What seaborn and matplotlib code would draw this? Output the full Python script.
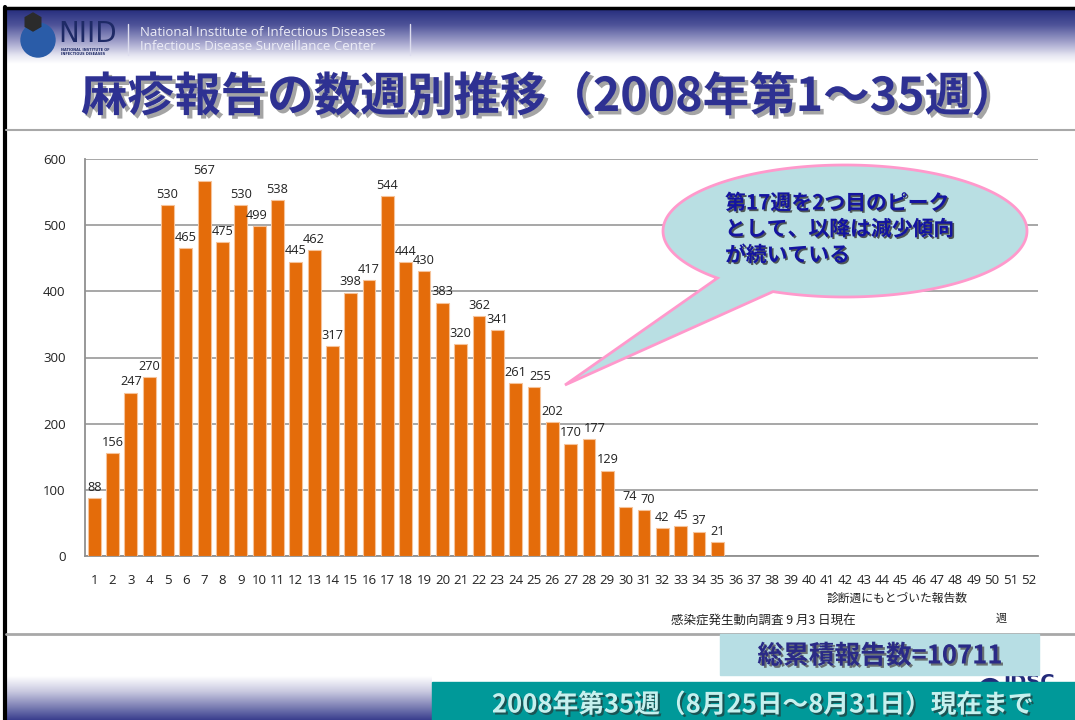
import numpy as np
import pandas as pd
import matplotlib
matplotlib.use("Agg")
import matplotlib.pyplot as plt
import matplotlib.patheffects as pe
from matplotlib.colors import LinearSegmentedColormap
from matplotlib.patches import Rectangle, Polygon, Circle, RegularPolygon
import seaborn as sns

# ---------------- data ----------------
weeks = [str(i) for i in range(1, 53)]
reported_weeks = weeks[:35]
counts = [88, 156, 247, 270, 530, 465, 567, 475, 530, 499, 538, 445, 462, 317,
          398, 417, 544, 444, 430, 383, 320, 362, 341, 261, 255, 202, 170, 177,
          129, 74, 70, 42, 45, 37, 21]
y_ticks = [0, 100, 200, 300, 400, 500, 600]
title = "麻疹報告の数週別推移（2008年第1～35週）"
callout_lines = ["第17週を2つ目のピーク", "として、以降は減少傾向", "が続いている"]
note_basis = "診断週にもとづいた報告数"
note_source = "感染症発生動向調査 9 月3 日現在"
x_unit = "週"
total_text = "総累積報告数=10711"
footer_text = "2008年第35週（8月25日～8月31日）現在まで"

sns.set_theme(style="white")
plt.rcParams['font.family'] = ['Noto Sans CJK JP', 'DejaVu Sans']

W, H = 1075, 720
fig = plt.figure(figsize=(W / 100, H / 100), dpi=100)
fig.patch.set_facecolor("white")

# background overlay (pixel coords)
bg = fig.add_axes([0, 0, 1, 1], zorder=0)
bg.set_xlim(0, W); bg.set_ylim(H, 0); bg.axis("off")

head_cmap = LinearSegmentedColormap.from_list(
    "head", [(0, "#242C7C"), (0.3, "#4E5399"), (0.62, "#A5A5CD"), (0.85, "#E6E6F2"), (1, "#FFFFFF")])
grad = np.linspace(0, 1, 200).reshape(-1, 1)
bg.imshow(grad, cmap=head_cmap, extent=[6, W, 64, 8], aspect="auto", zorder=1)
foot_cmap = LinearSegmentedColormap.from_list(
    "foot", [(0, "#FFFFFF"), (0.35, "#C9C9E0"), (0.7, "#7C7FB4"), (1, "#3A3E8E")])
bg.imshow(grad, cmap=foot_cmap, extent=[6, 432, 720, 676], aspect="auto", zorder=1)
bg.set_xlim(0, W); bg.set_ylim(H, 0)

# slide borders and rules
bg.plot([5, W], [7.5, 7.5], color="black", lw=2.5, zorder=3)
bg.plot([5, 5], [7, H], color="black", lw=3, zorder=3)
bg.plot([6, W], [130, 130], color="#A8A8A8", lw=1.5, zorder=3)
bg.plot([6, W], [634, 634], color="#A8A8A8", lw=2, zorder=3)

# NIID logo
bg.add_patch(Circle((38, 40), 17, color="#2A5CA8", zorder=4))
bg.add_patch(RegularPolygon((33, 22), 6, radius=9, color="#2B2B2B", zorder=5))
bg.text(58, 34, "NIID", fontsize=20, color="#1E2A66", family="DejaVu Sans",
        va="center", ha="left", zorder=6)
bg.text(61, 52, "NATIONAL INSTITUTE OF\nINFECTIOUS DISEASES", fontsize=2.5,
        color="#1E2A66", family="DejaVu Sans", va="center", ha="left",
        fontweight="bold", zorder=6)
bg.plot([128, 128], [24, 55], color="#DDDDEE", lw=1, zorder=6)
bg.plot([410, 410], [24, 55], color="#DDDDEE", lw=1, zorder=6)
bg.text(140, 33, "National Institute of Infectious Diseases", fontsize=9.5,
        color="#ECECF6", family="Open Sans", va="center", ha="left", zorder=6)
bg.text(140, 47, "Infectious Disease Surveillance Center", fontsize=9.5,
        color="#ECECF6", family="Open Sans", va="center", ha="left", zorder=6)

# title
bg.text(549, 97, title, fontsize=33.5, color="#2E3192", fontweight="bold",
        ha="center", va="center", zorder=6,
        path_effects=[pe.SimplePatchShadow(offset=(2.5, -2.5), shadow_rgbFace="#9A9A9A", alpha=0.9), pe.Normal()])

# IDSC logo (mostly hidden behind the footer box)
bg.add_patch(Circle((990, 690), 10, fill=False, ec="#232A7A", lw=3, zorder=4))
idsc = bg.text(1003, 683, "IDSC", fontsize=14, color="#232A7A", fontweight="bold",
               family="DejaVu Sans", ha="left", va="center", zorder=4)
clip = Rectangle((995, 668), 75, 14, transform=bg.transData, visible=False)
bg.add_patch(clip)
idsc.set_clip_path(clip)

# total box
bg.add_patch(Rectangle((720, 634), 319, 41, color="#B7DEE4", zorder=5))
bg.text(880, 656, total_text, fontsize=18.5, color="#2A2A86", fontweight="bold",
        ha="center", va="center", zorder=6,
        path_effects=[pe.SimplePatchShadow(offset=(1.5, -1.5), shadow_rgbFace="#555555", alpha=0.8), pe.Normal()])

# footer teal box
bg.add_patch(Rectangle((432, 682), W - 432, 40, color="#009999", zorder=7))
bg.text(763, 705, footer_text, fontsize=18.5, color="#C6F0EE", fontweight="bold",
        ha="center", va="center", zorder=8,
        path_effects=[pe.SimplePatchShadow(offset=(1.5, -1.5), shadow_rgbFace="#1E4D4D", alpha=0.9), pe.Normal()])

# notes
bg.text(897, 598, note_basis, fontsize=8.5, color="#222222", ha="center", va="center", zorder=6)
bg.text(763, 621, note_source, fontsize=9.0, color="#222222", ha="center", va="center", zorder=6)
bg.text(1001, 619, x_unit, fontsize=8, color="#222222", ha="center", va="center", zorder=6)

# ---------------- chart ----------------
left, right, top, bottom = 85, 1038, 159, 556
ax = fig.add_axes([left / W, 1 - bottom / H, (right - left) / W, (bottom - top) / H], zorder=2)
df = pd.DataFrame({"week": reported_weeks, "count": counts})
sns.barplot(data=df, x="week", y="count", order=weeks, color="#E46C0A",
            saturation=1, width=0.7, edgecolor="#F6C39A", linewidth=0.8, ax=ax, zorder=3)
labels = ax.bar_label(ax.containers[0], labels=[str(v) for v in counts], padding=3,
                      fontsize=9.2, color="#222222", family="Open Sans")
# Excel-like nudges for crowded neighbouring labels
nudge = {"25": 4.5, "28": 4.5, "10": -1.5, "30": 3, "31": 3}
for wk, lab in zip(reported_weeks, labels):
    if wk in nudge:
        dx, dy = lab.xyann
        lab.xyann = (dx + nudge[wk], dy)
ax.set_xlim(-0.5, len(weeks) - 0.5)
ax.set_ylim(0, 600)
ax.set_yticks(y_ticks)
ax.set_xlabel(""); ax.set_ylabel("")
ax.set_facecolor("none")
ax.yaxis.grid(True, color="#A0A0A0", lw=1.3, zorder=0)
ax.set_axisbelow(True)
for s in ["top", "right"]:
    ax.spines[s].set_visible(False)
for s in ["left", "bottom"]:
    ax.spines[s].set_color("#909090")
    ax.spines[s].set_linewidth(1.3)
ax.tick_params(axis="x", which="major", length=0, pad=13, labelsize=9.5, labelcolor="#222222")
ax.set_xticks(np.arange(len(weeks)) + 0.5, minor=True)
ax.tick_params(axis="x", which="minor", length=4, color="#909090", width=1, direction="out")
ax.tick_params(axis="y", length=4, color="#909090", width=1, direction="out", pad=10,
               labelsize=9.5, labelcolor="#222222")
for lab in ax.get_xticklabels() + ax.get_yticklabels():
    lab.set_family("Open Sans")

# ---------------- callout (pixel overlay) ----------------
fg = fig.add_axes([0, 0, 1, 1], zorder=4)
fg.set_xlim(0, W); fg.set_ylim(H, 0); fg.axis("off")
fg.patch.set_alpha(0)
cx, cy, ea, eb = 845, 231, 182, 66
th1, th2 = np.deg2rad(134.5), np.deg2rad(113.3 + 360)
th = np.linspace(th1, th2, 300)
pts = np.column_stack([cx + ea * np.cos(th), cy + eb * np.sin(th)])
pts = np.vstack([pts, [[565, 385]]])
fg.add_patch(Polygon(pts, closed=True, fc="#B9DFE3", ec="#FF99CC", lw=2))
for i, line in enumerate(callout_lines):
    fg.text(725, 203 + i * 26, line, fontsize=15, color="#1414A0", fontweight="bold",
            ha="left", va="center",
            path_effects=[pe.SimplePatchShadow(offset=(1.2, -1.2), shadow_rgbFace="#333333", alpha=0.8), pe.Normal()])

fig.savefig("out.png", dpi=100)
